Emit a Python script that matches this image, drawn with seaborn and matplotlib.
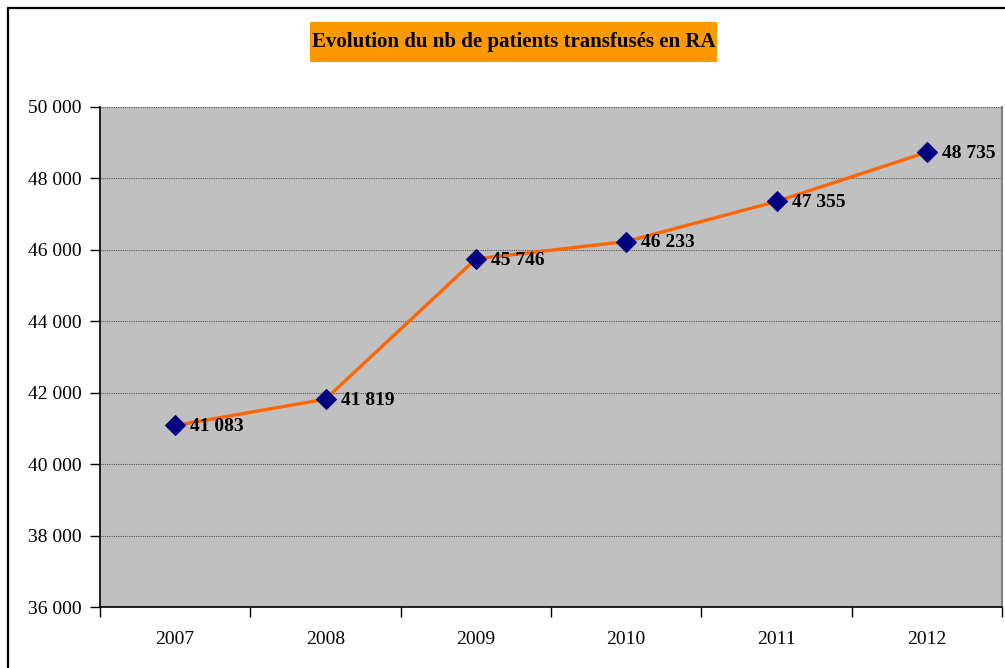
import matplotlib
matplotlib.use("Agg")
import matplotlib.pyplot as plt
import seaborn as sns
import numpy as np
from matplotlib.patches import Rectangle
from matplotlib.lines import Line2D
from matplotlib.ticker import FuncFormatter, FixedLocator

years = ["2007", "2008", "2009", "2010", "2011", "2012"]
patients = [41083, 41819, 45746, 46233, 47355, 48735]
title = "Evolution du nb de patients transfusés en RA"

sns.set_theme(style="white")
plt.rcParams['font.family'] = ['Liberation Serif', 'DejaVu Serif']
plt.rcParams['text.color'] = 'black'
plt.rcParams['xtick.color'] = 'black'
plt.rcParams['ytick.color'] = 'black'

W, H = 1005, 668
fig = plt.figure(figsize=(W / 100, H / 100), dpi=100)
fig.patch.set_facecolor("white")

ax = fig.add_axes([100 / W, 1 - 607 / H, 902 / W, 500 / H])
ax.set_facecolor("#C0C0C0")

x = np.arange(len(years))
sns.lineplot(x=x, y=patients, ax=ax, color="#FF6600", linewidth=2.4,
             marker="D", markersize=10, markerfacecolor="#000080",
             markeredgecolor="#000080", zorder=3)

for xi, v in zip(x, patients):
    ax.annotate(f"{v:,}".replace(",", " "), (xi, v), xytext=(11, -1),
                textcoords="offset points", ha="left", va="center",
                fontsize=14, fontweight="bold", color="black", zorder=4)

ax.set_xlim(-0.5, len(years) - 0.5)
ax.set_ylim(36000, 50000)
ax.yaxis.set_major_locator(FixedLocator(np.arange(36000, 50001, 2000)))
ax.yaxis.set_major_formatter(FuncFormatter(lambda v, p: f"{int(v):,}".replace(",", " ")))
ax.grid(axis="y", color="#555555", linestyle=(0, (1, 1)), linewidth=0.8)
ax.grid(axis="x", visible=False)
ax.set_axisbelow(True)

ax.set_xticks(np.arange(-0.5, len(years), 1.0))
ax.set_xticklabels([])
ax.set_xticks(x, minor=True)
ax.set_xticklabels(years, minor=True)
ax.tick_params(axis="x", which="major", direction="out", length=7, width=1, color="black", bottom=True)
ax.tick_params(axis="x", which="minor", length=0, pad=17, labelsize=14, labelcolor="black")
ax.tick_params(axis="y", direction="out", length=7, width=1, color="black", left=True,
               labelsize=14, pad=6, labelcolor="black")

for s in ["left", "bottom"]:
    ax.spines[s].set_color("black")
    ax.spines[s].set_linewidth(1.2)
ax.spines["top"].set_visible(False)
ax.spines["right"].set_color("#808080")
ax.spines["right"].set_linewidth(1.5)
ax.set_xlabel("")
ax.set_ylabel("")

# outer frame
fig.add_artist(Line2D([7.5 / W, 7.5 / W], [0, 1 - 8 / H], color="black", linewidth=1.6, transform=fig.transFigure))
fig.add_artist(Line2D([7.5 / W, 1], [1 - 8 / H, 1 - 8 / H], color="black", linewidth=1.6, transform=fig.transFigure))

# title box
fig.add_artist(Rectangle((310 / W, 1 - 62 / H), 407 / W, 40 / H, facecolor="#FF9900",
                         edgecolor="none", transform=fig.transFigure))
fig.text(513.5 / W, 1 - 42 / H, title, ha="center", va="center", fontsize=15,
         fontweight="bold", color="black")

fig.savefig("out.png", dpi=100)
